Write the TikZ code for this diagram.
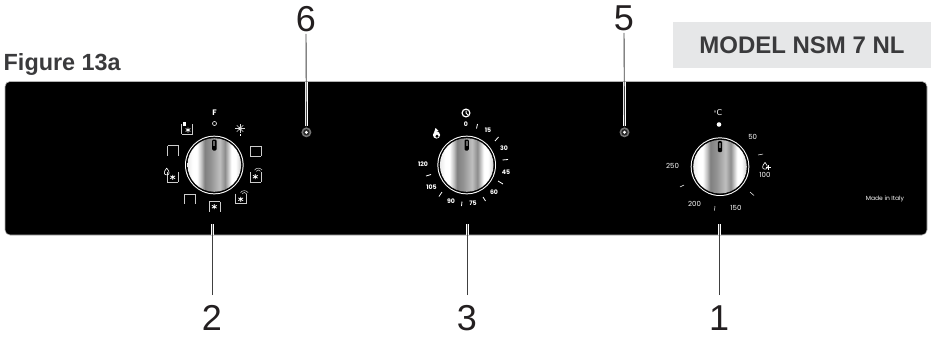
\documentclass[tikz,border=0pt]{standalone}
\usepackage{fontspec}
\setmainfont{Liberation Sans}
\newfontfamily\panelfont{Poppins}
\newfontfamily\symfont{DejaVu Sans}
\usetikzlibrary{calc}
\definecolor{labelgrey}{HTML}{231F20}
\definecolor{figgrey}{HTML}{3A3A3C}
\definecolor{boxgrey}{HTML}{E6E7E8}
\pgfdeclarehorizontalshading{chrome}{100bp}{
 color(0bp)=(black!8);
 color(25bp)=(black!8);
 color(30bp)=(white);
 color(34bp)=(white);
 color(38bp)=(black!25);
 color(41bp)=(black!50);
 color(47bp)=(black!42);
 color(55bp)=(black!25);
 color(60bp)=(black!45);
 color(66bp)=(white);
 color(70bp)=(white);
 color(75bp)=(black!20);
 color(100bp)=(black!20)}
\tikzset{
 x=1pt,y=-1pt,
 numlabel/.style={font=\fontsize{36}{36}\selectfont,text=labelgrey,inner sep=0pt,anchor=center},
 leader/.style={draw=black!75,line width=0.9pt},
 halo/.style={draw=white,line width=3pt},
 scaletxt/.style={font=\panelfont\fontsize{6.2}{6}\selectfont\bfseries,text=white,inner sep=0pt},
 scaletxtl/.style={font=\panelfont\fontsize{7}{7}\selectfont,text=white,inner sep=0pt},
 tick/.style={draw=white,line width=0.8pt},
 icon/.style={draw=black!20,line width=0.6pt,fill=none},
}
\newcommand{\knob}[1]{%
 \fill[white] (#1) circle[radius=29.3];
 \fill[black] (#1) circle[radius=28.3];
 \shade[shading=chrome] (#1) circle[radius=26.8];
 \fill[black,rounded corners=1.2pt] ($(#1)+(-2.2,-25.5)$) rectangle ($(#1)+(2.2,-14.5)$);
 \fill[black!60] ($(#1)+(-0.9,-24)$) rectangle ($(#1)+(0.9,-19)$);
 }
\newcommand{\ovenbox}[3]{% centre, top, bottom lines
 \draw[icon] ($(#1)+(-5.5,-5)$) -- ($(#1)+(-5.5,5)$);
 \draw[icon] ($(#1)+(5.5,-5)$) -- ($(#1)+(5.5,5)$);
 \ifnum#2=1 \draw[icon] ($(#1)+(-5.5,-5)$) -- ($(#1)+(5.5,-5)$);\fi
 \ifnum#3=1 \draw[icon] ($(#1)+(-5.5,5)$) -- ($(#1)+(5.5,5)$);\fi
}
\newcommand{\fanmark}[1]{%
 \fill[white] (#1) circle[radius=0.9];
 \draw[white,line width=0.7pt] ($(#1)+(-2.4,-1.4)$) -- ($(#1)+(2.4,1.4)$) ($(#1)+(-2.4,1.4)$) -- ($(#1)+(2.4,-1.4)$) ($(#1)+(0,-2.5)$) -- ($(#1)+(0,2.5)$);
}
\newcommand{\drop}[2][0.6pt]{%
 \draw[white,line width=#1,line join=round] ($(#2)+(0,-3.6)$) .. controls ($(#2)+(3.4,0.3)$) and ($(#2)+(3,3.2)$) .. ($(#2)+(0,3.2)$) .. controls ($(#2)+(-3,3.2)$) and ($(#2)+(-3.4,0.3)$) .. cycle;
}
\newcommand{\waves}[1]{%
 \draw[black!15,line width=0.5pt] ($(#1)+(-2.2,0.8)$) .. controls ($(#1)+(-1.2,-1)$) and ($(#1)+(1.2,-1)$) .. ($(#1)+(2.2,0.8)$);
 \draw[black!15,line width=0.5pt] ($(#1)+(-3.8,-0.4)$) .. controls ($(#1)+(-2,-3)$) and ($(#1)+(2,-3)$) .. ($(#1)+(3.8,-0.4)$);
}
\begin{document}
\begin{tikzpicture}
\useasboundingbox (0,0) rectangle (931,338);
% panel
\filldraw[fill=black,draw=black!30,line width=0.6pt,rounded corners=5pt] (5,81.5) rectangle (927,235);
% title and model
\node[font=\fontsize{23.4}{23}\selectfont\bfseries,text=figgrey,inner sep=0pt,anchor=west] (fig) at (3.5,64) {Figure 13a};
\node[fill=boxgrey,minimum width=258pt,minimum height=46pt,inner sep=0pt,font=\fontsize{24}{24}\selectfont\bfseries,text=figgrey] (model) at (802,45) {MODEL NSM 7 NL};
% knob anchors
\coordinate (kL) at (214.3,165);
\coordinate (kM) at (466.7,165);
\coordinate (kR) at (720,166.7);
\coordinate (lampA) at (306.4,132.3);
\coordinate (lampB) at (624.5,132.3);
\knob{kL}\knob{kM}\knob{kR}
% lamps
\foreach \c in {lampA,lampB}{
 \fill[black!55] (\c) circle[radius=5];
 \fill[black!85] (\c) circle[radius=3.2];
 \fill[white] (\c) circle[radius=1.6];
}
% labels and leaders
\node[numlabel] (n6) at (306,19) {6};
\node[numlabel] (n5) at (624,18) {5};
\node[numlabel] (n2) at (212,318) {2};
\node[numlabel] (n3) at (467,318) {3};
\node[numlabel] (n1) at (719,318) {1};
\coordinate (t2) at (212,224);
\coordinate (t3) at (467,224);
\coordinate (t1) at (719,224);
\coordinate (lA) at ($(lampA)+(0,-6)$);
\coordinate (lB) at ($(lampB)+(0,-6)$);
\coordinate (p2) at (212,235);
\coordinate (p3) at (467,235);
\coordinate (p1) at (719,235);
\coordinate (pA) at (306.4,81.5);
\coordinate (pB) at (624.5,81.5);
\draw[halo] (t2) -- (p2);
\draw[halo] (t3) -- (p3);
\draw[halo] (t1) -- (p1);
\draw[halo] (lA) -- (pA);
\draw[halo] (lB) -- (pB);
\draw[leader,shorten <=2pt] (n6.south) -- (lA);
\draw[leader,shorten <=2pt] (n5.south) -- (lB);
\draw[leader,shorten <=10pt] (n2) ++(0,-13) -- (t2);
\draw[leader,shorten <=10pt] (n3) ++(0,-13) -- (t3);
\draw[leader,shorten <=10pt] (n1) ++(0,-13) -- (t1);
% left dial
\node[font=\panelfont\fontsize{8}{8}\selectfont\bfseries,text=white,inner sep=0pt] (lF) at (214.5,113) {F};
\draw[white,line width=0.6pt] (214.5,123.5) circle[radius=2];
\ovenbox{173,150.5}{1}{0}
\ovenbox{255.5,151}{1}{1}
\ovenbox{189.3,199.3}{1}{0}
\ovenbox{214.3,206.7}{1}{0}
\ovenbox{172.5,177}{0}{1}
\ovenbox{255.3,177.3}{0}{1}
\ovenbox{240.5,198.5}{0}{1}
\ovenbox{187,129}{0}{1}
\fanmark{214.3,206.7}
\fanmark{172.7,177.3}
\fanmark{255.3,176.7}
\fanmark{240.7,199.3}
\fanmark{188,130}
\drop{166.7,171.7}
\waves{258.3,170.5}
\waves{244.3,193}
\fill[white] (240,128.5) circle[radius=1.8];
\foreach \ang in {0,45,...,315}{\draw[black!15,line width=0.6pt] (240,128.5) -- ++(\ang:4.6);}
\draw[white,line width=0.5pt] (240,134) -- (240,136);
\fill[white] (182.5,122) rectangle (185.5,126);
% middle dial
\draw[white,line width=1.2pt] (466,113) circle[radius=3.9];
\draw[white,line width=1pt] (466,110.5) -- (466,113) -- (468,115);
\node[scaletxt] (m0) at (466,124) {0};
\node[scaletxt] (m15) at (488,130.5) {15};
\node[scaletxt] (m30) at (504,148) {30};
\node[scaletxt] (m45) at (506,172) {45};
\node[scaletxt] (m60) at (494,192.5) {60};
\node[scaletxt] (m75) at (473,203) {75};
\node[scaletxt] (m90) at (451,201) {90};
\node[scaletxt] (m105) at (431.5,187) {105};
\node[scaletxt] (m120) at (423,164) {120};
\foreach \xa/\ya/\xb/\yb in {477.5/124/476.5/128.5, 498.5/137/495/141, 502.5/160/508/159.5, 498/181/503/184, 483/197/485.5/201, 462/201.5/461.5/206, 442/192/439/196.5, 431/174.5/426/176}{
 \draw[tick] (\xa,\ya) -- (\xb,\yb);
}
\fill[white] (436.5,135) circle[radius=3.6];
\fill[white] (435.5,128) -- (438.5,131) -- (434,132.5) -- cycle;
\fill[black] (437,136.3) circle[radius=1.6];
% right dial
\node[font=\panelfont\fontsize{8}{8}\selectfont,text=white,inner sep=0pt] (mC) at (718,113) {\symfont{\fontsize{6}{6}\selectfont°}C};
\fill[white] (719,124.5) circle[radius=2.3];
\node[scaletxtl] (r50) at (752.7,136.5) {50};
\node[scaletxtl] (r100) at (765,175) {100};
\node[scaletxtl] (r150) at (736,207.5) {150};
\node[scaletxtl] (r200) at (694.5,204) {200};
\node[scaletxtl] (r250) at (672.5,166) {250};
\drop{765,166}
\draw[white,line width=0.9pt] (765.5,167.5) -- (770.5,167.5) (768,165) -- (768,170);
\foreach \xa/\ya/\xb/\yb in {758/155/763/154, 750/192/754/195.5, 715/206/714.5/210.5, 680/187/684/185}{
 \draw[white,line width=0.5pt] (\xa,\ya) -- (\xb,\yb);
}
\node[font=\panelfont\fontsize{6}{6}\selectfont,text=white,inner sep=0pt] (made) at (885,198.5) {Made in Italy};
\end{tikzpicture}
\end{document}
